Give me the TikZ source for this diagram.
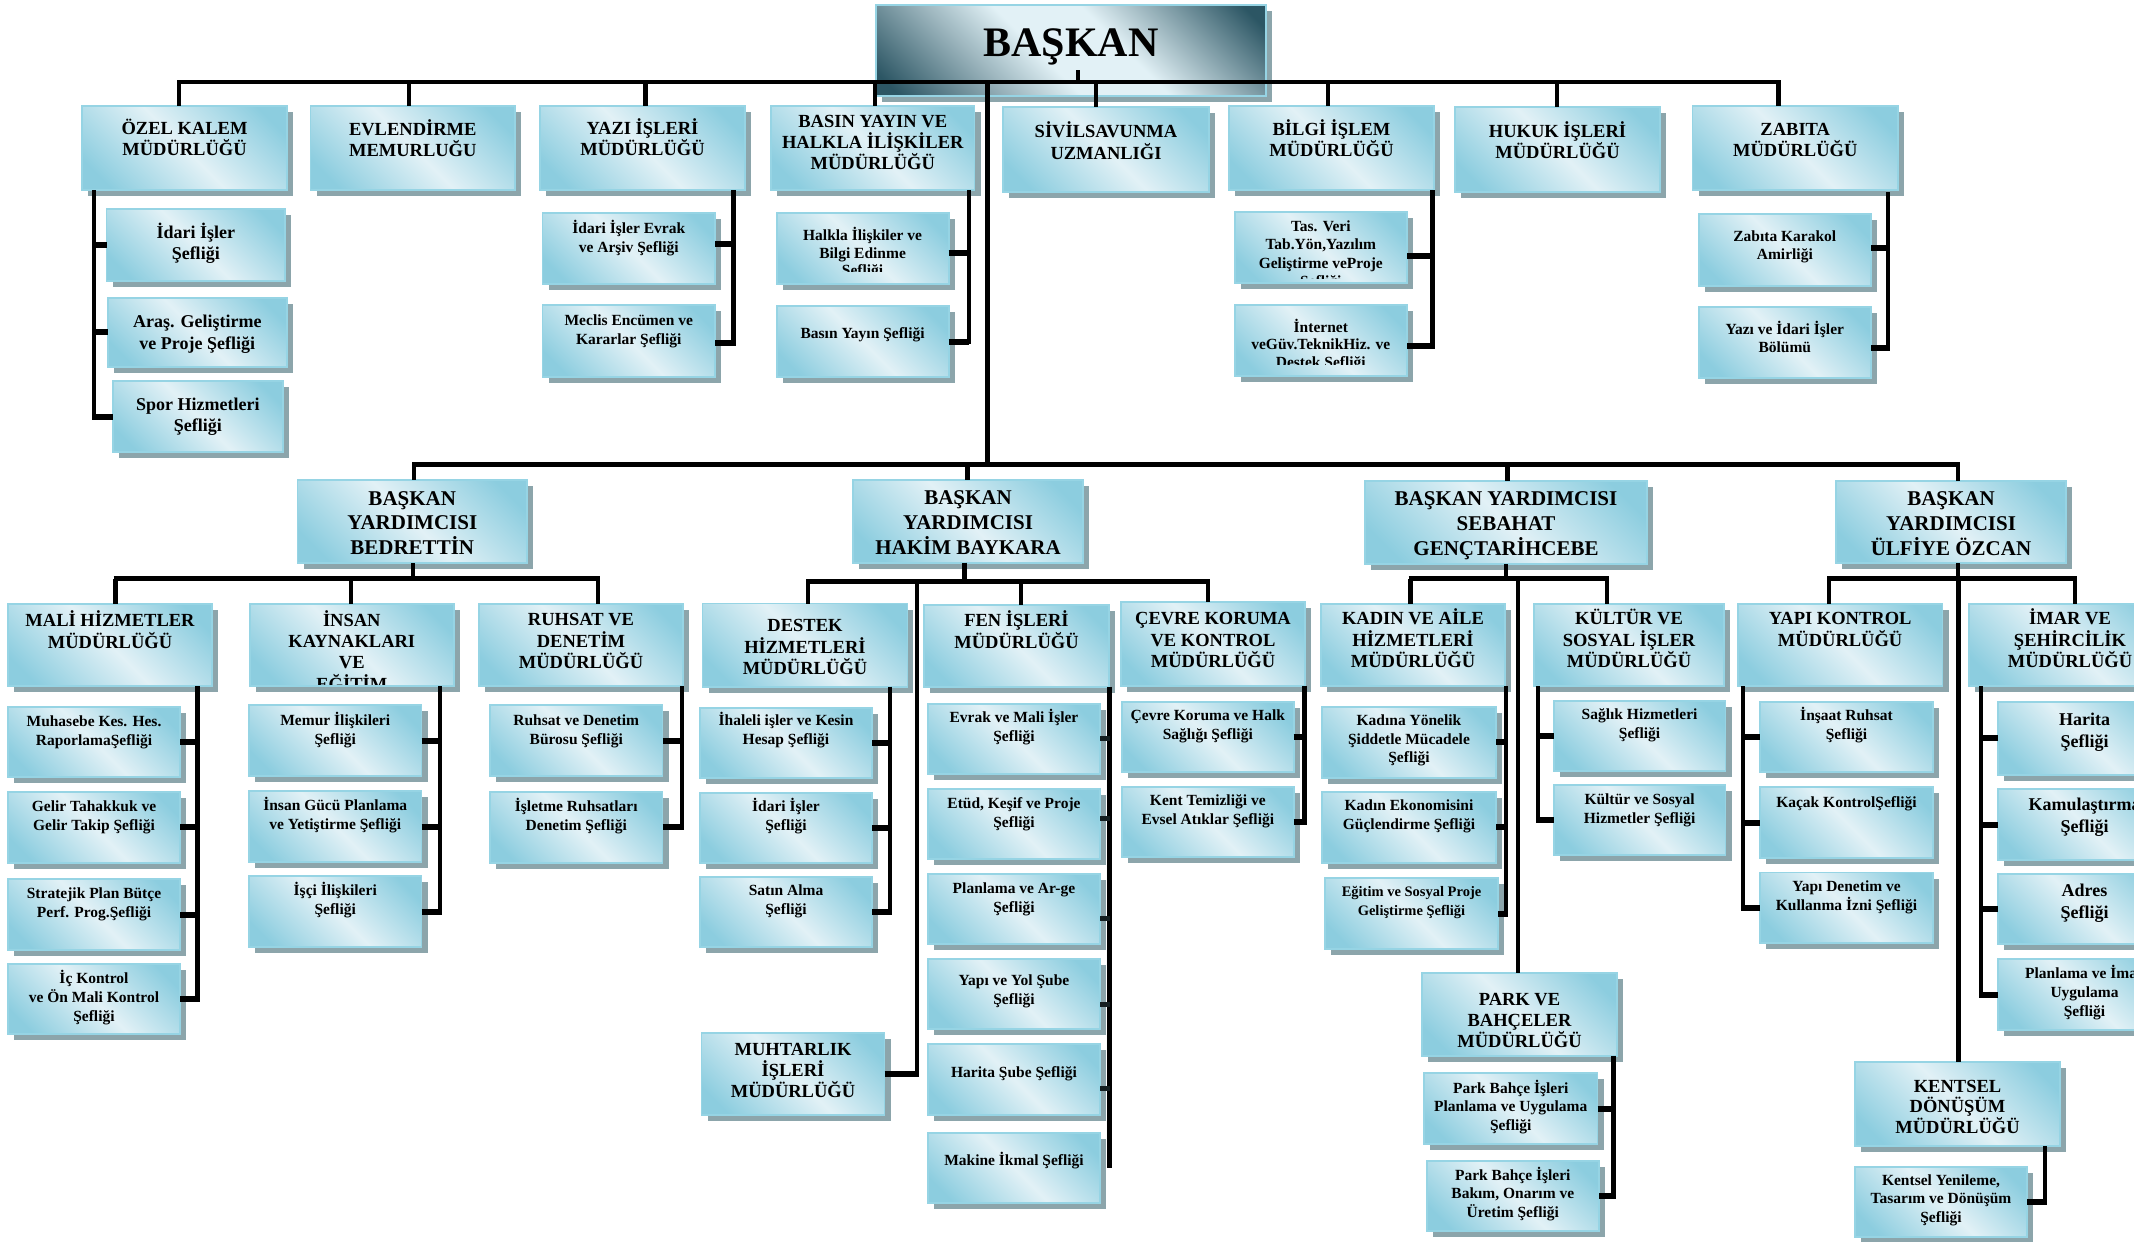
\documentclass[tikz,border=0pt]{standalone}
\usepackage{fontspec}
\setmainfont{Liberation Serif}
\definecolor{bc}{RGB}{140,205,223}
\definecolor{bl}{RGB}{226,241,246}
\definecolor{bordc}{RGB}{150,212,228}
\definecolor{shadc}{RGB}{140,165,171}
\definecolor{bdark}{RGB}{44,86,100}
\pgfdeclarehorizontalshading{boxsh}{100bp}{color(0bp)=(bc); color(22bp)=(bc); color(50bp)=(bl); color(78bp)=(bc); color(100bp)=(bc)}
\pgfdeclarehorizontalshading{bossh}{100bp}{color(0bp)=(bdark); color(18bp)=(bdark); color(45bp)=(bl); color(58bp)=(bl); color(82bp)=(bdark); color(100bp)=(bdark)}
\tikzset{
  bx/.style={rectangle, inner sep=0pt, outer sep=0pt, draw=bordc, line width=1.8pt, shading=boxsh, shading angle=45,
    preaction={fill=shadc, transform canvas={xshift=6pt,yshift=-6pt}}},
  bxb/.style={bx, shading=bossh},
  txt/.style={anchor=north, inner sep=0pt, align=center},
  conn/.style={line width=4.5pt, draw=black},
  stub/.style={line width=6pt, draw=black},
  fstub/.style={line width=5pt, draw=black!85!bc}
}
\def\clipy{5000}
\newcommand\obox[9]{%
  \node[bx, minimum width={(#4-#2)*1pt}, minimum height={(#5-#3)*1pt}] (#1) at ({(#2+#4)/2},{(#3+#5)/2}) {};
  \begin{scope}
    \clip (#2,#3) rectangle (#4,\clipy);
    \node[txt, font=\fontsize{#6}{#7}\selectfont\bfseries] (#1t) at ({(#2+#4)/2},{#3+#8-0.67*#6}) {\rule{0pt}{1em}#9};
  \end{scope}}
\begin{document}
\begin{tikzpicture}[x=1pt,y=-1pt]
\useasboundingbox (0,0) rectangle (2134,1242);
\clip (0,0) rectangle (2134,1242);
\fill[white] (0,0) rectangle (2134,1242);

% ---------- BASKAN
\node[bxb, minimum width=390pt, minimum height=91pt] (baskan) at (1071,50.5) {};
\node[txt, font=\fontsize{42}{48}\selectfont\bfseries] (baskant) at (1071,14.7) {\rule{0pt}{1em}BAŞKAN};

% ---------- top row
\obox{ozel}{82}{106}{287}{190}{18.5}{21.3}{22.3}{ÖZEL KALEM\\MÜDÜRLÜĞÜ}
\obox{evlen}{310.5}{106}{515}{190}{18.5}{21.3}{23}{EVLENDİRME\\MEMURLUĞU}
\obox{yazi}{540}{106}{745}{190}{18.5}{21.3}{22.3}{YAZI İŞLERİ\\MÜDÜRLÜĞÜ}
\obox{basin}{771}{106}{974.5}{190}{18.5}{21.3}{14.7}{BASIN YAYIN VE\\HALKLA İLİŞKİLER\\MÜDÜRLÜĞÜ}
\obox{sivil}{1003}{107}{1209}{192}{18.5}{21.3}{24.5}{SİVİLSAVUNMA\\UZMANLIĞI}
\obox{bilgi}{1229}{106}{1434}{190}{18.5}{21.3}{23.3}{BİLGİ İŞLEM\\MÜDÜRLÜĞÜ}
\obox{hukuk}{1455}{107}{1660}{192}{18.5}{21.3}{23.7}{HUKUK İŞLERİ\\MÜDÜRLÜĞÜ}
\obox{zabita}{1692.5}{106}{1898}{190}{18.5}{21.3}{23.3}{ZABITA\\MÜDÜRLÜĞÜ}

% ---------- top row children
\obox{idari1}{106.5}{209}{285}{280.7}{18}{20.5}{23.7}{İdari İşler\\Şefliği}
\obox{aras}{108}{297.7}{286.6}{366.7}{18}{21.5}{24}{Araş. Geliştirme\\ve Proje Şefliği}
\obox{spor}{112.6}{380.7}{283}{452.3}{18}{21}{23.3}{Spor Hizmetleri\\Şefliği}
\obox{evrak1}{542.5}{212.7}{715}{284}{15.5}{19}{15}{İdari İşler Evrak\\ve Arşiv Şefliği}
\obox{meclis}{542.5}{305}{715}{376.7}{15.5}{19}{15}{Meclis Encümen ve\\Kararlar Şefliği}
\def\clipy{271.7}
\obox{halkla}{776.6}{213}{948.6}{284}{15.5}{17.7}{22}{Halkla İlişkiler ve\\Bilgi Edinme\\Şefliği}
\def\clipy{5000}
\obox{basinsef}{776.6}{306}{948.6}{377.3}{15.5}{18.5}{26.7}{Basın Yayın Şefliği}
\def\clipy{278.3}
\obox{tasveri}{1234.6}{211.7}{1407}{282.7}{15.5}{18.4}{14.3}{Tas. Veri\\Tab.Yön,Yazılım\\Geliştirme veProje\\Şefliği}
\def\clipy{364}
\obox{internet}{1234.6}{305}{1407}{376}{15.5}{17.6}{21.7}{İnternet\\veGüv.TeknikHiz. ve\\Destek Şefliği}
\def\clipy{5000}
\obox{karakol}{1698.6}{214}{1871}{285.7}{15.5}{18}{22}{Zabıta Karakol\\Amirliği}
\obox{yaziidari}{1698.6}{306.7}{1871}{378.3}{15.5}{17.5}{22.6}{Yazı ve İdari İşler\\Bölümü}

% ---------- vice mayors
\obox{bedrettin}{297.5}{480}{527}{563}{21}{24.5}{18}{BAŞKAN\\YARDIMCISI\\BEDRETTİN}
\obox{hakim}{853}{480}{1083}{562.6}{21}{25}{17}{BAŞKAN\\YARDIMCISI\\HAKİM BAYKARA}
\obox{sebahat}{1365}{481}{1647}{564}{21}{25}{17}{BAŞKAN YARDIMCISI\\SEBAHAT\\GENÇTARİHCEBE}
\obox{ulfiye}{1836}{481}{2066}{563}{21}{25}{17}{BAŞKAN\\YARDIMCISI\\ÜLFİYE ÖZCAN}

% ---------- directorates
\obox{mali}{8}{604}{212}{686}{18.5}{21.8}{16}{MALİ HİZMETLER\\MÜDÜRLÜĞÜ}
\def\clipy{684}
\obox{insan}{250}{604}{453.6}{686}{18.5}{21.3}{16}{İNSAN\\KAYNAKLARI\\VE\\EĞİTİM}
\def\clipy{5000}
\obox{ruhsat}{479}{604}{683}{686}{18.5}{21.8}{15}{RUHSAT VE\\DENETİM\\MÜDÜRLÜĞÜ}
\obox{destek}{702.5}{603.5}{907.4}{686.6}{18.5}{21.5}{22}{DESTEK\\HİZMETLERİ\\MÜDÜRLÜĞÜ}
\obox{fen}{924}{604.7}{1109}{686.6}{18.5}{21.8}{15.5}{FEN İŞLERİ\\MÜDÜRLÜĞÜ}
\obox{cevre}{1121}{602}{1305}{686}{18.5}{21.8}{16}{ÇEVRE KORUMA\\VE KONTROL\\MÜDÜRLÜĞÜ}
\obox{kadin}{1321}{604}{1505}{686}{18.5}{21.8}{14}{KADIN VE AİLE\\HİZMETLERİ\\MÜDÜRLÜĞÜ}
\obox{kultur}{1534}{604}{1724}{686}{18.5}{21.8}{14}{KÜLTÜR VE\\SOSYAL İŞLER\\MÜDÜRLÜĞÜ}
\obox{yapik}{1737.8}{604}{1942.5}{686}{18.5}{21.8}{14}{YAPI KONTROL\\MÜDÜRLÜĞÜ}
\obox{imar}{1969}{604}{2171}{686}{18.5}{21.8}{14}{İMAR VE\\ŞEHİRCİLİK\\MÜDÜRLÜĞÜ}
\obox{muhtarlik}{701.5}{1032.7}{884.5}{1115}{18.5}{21}{16}{MUHTARLIK\\İŞLERİ\\MÜDÜRLÜĞÜ}
\obox{park}{1422}{973}{1617}{1056}{18.5}{21}{26}{PARK VE\\BAHÇELER\\MÜDÜRLÜĞÜ}
\obox{kentsel}{1855}{1061.7}{2060}{1146}{18.5}{20.5}{24.3}{KENTSEL\\DÖNÜŞÜM\\MÜDÜRLÜĞÜ}

% ---------- children
\obox{muh}{8}{707}{180}{777}{15.5}{19}{14}{Muhasebe Kes. Hes.\\RaporlamaŞefliği}
\obox{gelir}{8}{792}{180}{862.6}{15.5}{19}{14}{Gelir Tahakkuk ve\\Gelir Takip Şefliği}
\obox{strat}{8}{879}{180}{950}{15.5}{19}{14}{Stratejik Plan Bütçe\\Perf. Prog.Şefliği}
\obox{ick}{8}{964}{180}{1034}{15.5}{19}{14}{İç Kontrol\\ve Ön Mali Kontrol\\Şefliği}

\obox{memur}{249}{705}{421.5}{776}{15.5}{19}{15}{Memur İlişkileri\\Şefliği}
\obox{gucu}{249}{791}{421.5}{862}{15.5}{19}{14.6}{İnsan Gücü Planlama\\ve Yetiştirme Şefliği}
\obox{isci}{249}{876}{421.5}{947}{15.5}{19}{14.5}{İşçi İlişkileri\\Şefliği}

\obox{rburo}{490}{705}{662.5}{776}{15.5}{19}{15.2}{Ruhsat ve Denetim\\Bürosu Şefliği}
\obox{isletme}{490}{792}{662.5}{862.6}{15.5}{19}{14.3}{İşletme Ruhsatları\\Denetim Şefliği}

\obox{ihale}{700}{707.6}{872}{777.6}{15.5}{19}{13}{İhaleli işler ve Kesin\\Hesap Şefliği}
\obox{idari2}{700}{793}{872}{862.6}{15.5}{19}{13}{İdari İşler\\Şefliği}
\obox{satin}{700}{877}{872}{946.8}{15.5}{19}{13.5}{Satın Alma\\Şefliği}

\obox{evrak2}{928}{703.8}{1100}{773.8}{15.5}{19}{13}{Evrak ve Mali İşler\\Şefliği}
\obox{etud}{928}{789}{1100}{858.8}{15.5}{19}{14}{Etüd, Keşif ve Proje\\Şefliği}
\obox{planarge}{928}{874}{1100}{944}{15.5}{19}{14}{Planlama ve Ar-ge\\Şefliği}
\obox{yapiyol}{928}{959}{1100}{1029}{15.5}{19}{21.5}{Yapı ve Yol Şube\\Şefliği}
\obox{haritasube}{928}{1044}{1100}{1115}{15.5}{19}{28}{Harita Şube Şefliği}
\obox{makine}{928}{1132.7}{1100}{1202.7}{15.5}{19}{27}{Makine İkmal Şefliği}

\obox{cevrehalk}{1122}{702}{1293.6}{772}{15.5}{19}{13}{Çevre Koruma ve Halk\\Sağlığı Şefliği}
\obox{kent}{1122}{787}{1293.6}{857}{15.5}{19}{13}{Kent Temizliği ve\\Evsel Atıklar Şefliği}

\obox{kadsid}{1322}{707}{1496}{777.6}{15.5}{18.8}{13}{Kadına Yönelik\\Şiddetle Mücadele\\Şefliği}
\obox{kadeko}{1322}{792}{1496}{862.6}{15.5}{19}{13.6}{Kadın Ekonomisini\\Güçlendirme Şefliği}
\obox{egitim}{1325}{878}{1498}{949}{14.5}{19}{13.7}{Eğitim ve Sosyal Proje\\Geliştirme Şefliği}

\obox{saglik}{1553.7}{701}{1725.5}{770.8}{15.5}{19}{13.5}{Sağlık Hizmetleri\\Şefliği}
\obox{kultursos}{1553.7}{785}{1725.5}{855}{15.5}{19}{13.7}{Kültür ve Sosyal\\Hizmetler Şefliği}

\obox{insaat}{1760}{702}{1933}{772}{15.5}{19}{13.6}{İnşaat Ruhsat\\Şefliği}
\obox{kacak}{1760}{787}{1933}{858}{15.5}{19}{15.5}{Kaçak KontrolŞefliği}
\obox{yapiden}{1760}{872.5}{1933}{943}{15.5}{19}{14}{Yapı Denetim ve\\Kullanma İzni Şefliği}

\obox{harita}{1998}{702}{2171}{774.6}{18}{21.8}{17.5}{Harita\\Şefliği}
\obox{kamu}{1998}{789}{2171}{860}{18}{22}{15.4}{Kamulaştırma\\Şefliği}
\obox{adres}{1998}{874}{2171}{944}{18}{21.8}{16.5}{Adres\\Şefliği}
\obox{planimar}{1998}{959}{2171}{1030}{15.5}{18.7}{14.6}{Planlama ve İmar\\Uygulama\\Şefliği}

\obox{pbplan}{1424}{1073}{1597.5}{1144}{15.5}{18.5}{15}{Park Bahçe İşleri\\Planlama ve Uygulama\\Şefliği}
\obox{pbbakim}{1426.6}{1160.7}{1599}{1230.7}{15.5}{18.5}{14.3}{Park Bahçe İşleri\\Bakım, Onarım ve\\Üretim Şefliği}

\obox{kyen}{1855}{1166.7}{2027}{1236.7}{15.5}{18.6}{13.3}{Kentsel Yenileme,\\Tasarım ve Dönüşüm\\Şefliği}

% ================= connectors
% bus A
\coordinate (dA1) at (179,82);
\coordinate (dA2) at (409,82);
\coordinate (dA3) at (645.6,82);
\coordinate (dA4) at (875,82);
\coordinate (dA5) at (1096,82);
\coordinate (dA6) at (1328,82);
\coordinate (dA7) at (1557,82);
\coordinate (dA8) at (1778.5,82);
\draw[conn, shorten <=-2pt, shorten >=-2pt] (dA1) -- (dA8);
\foreach \c/\n in {dA1/ozel,dA2/evlen,dA3/yazi,dA4/basin,dA5/sivil,dA6/bilgi,dA7/hukuk,dA8/zabita}
  \draw[conn] (\c) -- (\c |- \n.north);
\draw[conn] ([xshift=7pt,yshift=26pt]baskan.south) -- ([xshift=7pt,yshift=14pt]baskan.south);

% trunk and bus B
\coordinate (trk) at (987.5,82);
\coordinate (dB1) at (414,464.6);
\coordinate (dB2) at (967.7,464.6);
\coordinate (dB3) at (1507.4,464.6);
\coordinate (dB4) at (1958,464.6);
\draw[conn] (trk) -- (trk |- dB1);
\draw[conn, shorten <=-2pt, shorten >=-2pt] (dB1) -- (dB4);
\foreach \c/\n in {dB1/bedrettin,dB2/hakim,dB3/sebahat,dB4/ulfiye}
  \draw[conn] (\c) -- (\c |- \n.north);

% Bedrettin
\coordinate (cC0) at (413,578.6);
\coordinate (dC1) at (115.7,578.6);
\coordinate (dC2) at (351,578.6);
\coordinate (dC3) at (598,578.6);
\draw[conn] (cC0 |- bedrettin.south) -- (cC0);
\draw[conn, shorten <=-2pt, shorten >=-2pt] (dC1) -- (dC3);
\foreach \c/\n in {dC1/mali,dC2/insan,dC3/ruhsat}
  \draw[conn] (\c) -- (\c |- \n.north);

% Hakim
\coordinate (cD0) at (964.6,581.7);
\coordinate (dD1) at (808,581.7);
\coordinate (dD2) at (1021,581.7);
\coordinate (dD3) at (1208,581.7);
\coordinate (dMu) at (916.8,581.7);
\draw[conn] (cD0 |- hakim.south) -- (cD0);
\draw[conn, shorten <=-2pt, shorten >=-2pt] (dD1) -- (dD3);
\foreach \c/\n in {dD1/destek,dD2/fen,dD3/cevre}
  \draw[conn] (\c) -- (\c |- \n.north);
\draw[conn, shorten >=-3pt] (dMu) -- (dMu |- muhtarlik.east);
\draw[stub] (muhtarlik.east) -- (muhtarlik.east -| dMu);

% Sebahat
\coordinate (cE0) at (1506,578.6);
\coordinate (dE1) at (1410.6,578.6);
\coordinate (dE2) at (1607,578.6);
\coordinate (dPk) at (1518,578.6);
\draw[conn] (cE0 |- sebahat.south) -- (cE0);
\draw[conn, shorten <=-2pt, shorten >=-2pt] (dE1) -- (dE2);
\foreach \c/\n in {dE1/kadin,dE2/kultur,dPk/park}
  \draw[conn] (\c) -- (\c |- \n.north);

% Ulfiye
\coordinate (cF0) at (1958,578.6);
\coordinate (dF1) at (1829,578.6);
\coordinate (dF2) at (2075,578.6);
\coordinate (dKs) at (1958.5,578.6);
\draw[conn] (cF0 |- ulfiye.south) -- (cF0);
\draw[conn, shorten <=-2pt, shorten >=-2pt] (dF1) -- (dF2);
\foreach \c/\n in {dF1/yapik,dF2/imar,dKs/kentsel}
  \draw[conn] (\c) -- (\c |- \n.north);

% top-row branches
\coordinate (tOzel) at (94,190);
\draw[conn, shorten >=-3pt] (tOzel) -- (tOzel |- spor.west);
\foreach \n in {idari1,aras,spor} \draw[stub] (\n.west) -- (\n.west -| tOzel);
\coordinate (tYazi) at (733.6,190);
\draw[conn] (tYazi) -- +(0,156);
\draw[stub] ([yshift=4pt]evrak1.east) -- +(18.6,0);
\draw[stub] ([yshift=-2.5pt]meclis.east) -- +(18.6,0);
\coordinate (tBasin) at (969,190);
\draw[conn] (tBasin) -- +(0,153.5);
\draw[stub] ([yshift=-4.8pt]halkla.east) -- +(20.4,0);
\draw[stub] (basinsef.east) -- (basinsef.east -| tBasin);
\coordinate (tBilgi) at (1432.5,190);
\draw[conn] (tBilgi) -- +(0,159);
\draw[stub] ([yshift=-8.8pt]tasveri.east) -- +(25.5,0);
\draw[stub] ([yshift=-5.5pt]internet.east) -- +(25.5,0);
\coordinate (tZab) at (1888,192);
\draw[conn] (tZab) -- +(0,158.5);
\draw[stub] ([yshift=1.5pt]karakol.east) -- +(17,0);
\draw[stub] ([yshift=-5.2pt]yaziidari.east) -- +(17,0);

% directorate branches
\coordinate (tMali) at (197.4,686);
\draw[conn, shorten >=-3pt] (tMali) -- (tMali |- ick.east);
\foreach \n in {muh,gelir,strat,ick} \draw[stub] (\n.east) -- (\n.east -| tMali);
\coordinate (tInsan) at (440,686);
\draw[conn, shorten >=-3pt] (tInsan) -- (tInsan |- isci.east);
\foreach \n in {memur,gucu,isci} \draw[stub] (\n.east) -- (\n.east -| tInsan);
\coordinate (tRuhsat) at (682,686);
\draw[conn, shorten >=-3pt] (tRuhsat) -- (tRuhsat |- isletme.east);
\foreach \n in {rburo,isletme} \draw[stub] (\n.east) -- (\n.east -| tRuhsat);
\coordinate (tDestek) at (890,686.6);
\draw[conn, shorten >=-3pt] (tDestek) -- (tDestek |- satin.east);
\foreach \n in {ihale,idari2,satin} \draw[stub] (\n.east) -- (\n.east -| tDestek);
\coordinate (tFen) at (1109.6,686.6);
\draw[conn] (tFen) -- (tFen |- makine.east);
\draw[fstub] (evrak2.east) -- +(9.6,0);
\draw[fstub] ([yshift=5pt]etud.east) -- +(9.6,0);
\draw[fstub] ([yshift=-9.5pt]planarge.east) -- +(9.6,0);
\draw[fstub] ([yshift=-10.6pt]yapiyol.east) -- +(9.6,0);
\draw[fstub] ([yshift=-8.5pt]haritasube.east) -- +(9.6,0);
\coordinate (tCevre) at (1304.7,686);
\draw[conn, shorten >=-3pt] (tCevre) -- (tCevre |- kent.east);
\foreach \n in {cevrehalk,kent} \draw[stub] (\n.east) -- (\n.east -| tCevre);
\coordinate (tKadin) at (1506,686);
\draw[conn, shorten >=-3pt] (tKadin) -- (tKadin |- egitim.east);
\foreach \n in {kadsid,kadeko,egitim} \draw[stub] (\n.east) -- (\n.east -| tKadin);
\coordinate (tKultur) at (1537.8,686);
\draw[conn, shorten >=-3pt] (tKultur) -- (tKultur |- kultursos.west);
\foreach \n in {saglik,kultursos} \draw[stub] (\n.west) -- (\n.west -| tKultur);
\coordinate (tYapi) at (1743,686);
\draw[conn, shorten >=-3pt] (tYapi) -- (tYapi |- yapiden.west);
\foreach \n in {insaat,kacak,yapiden} \draw[stub] (\n.west) -- (\n.west -| tYapi);
\coordinate (tImar) at (1981,686);
\draw[conn, shorten >=-3pt] (tImar) -- (tImar |- planimar.west);
\foreach \n in {harita,kamu,adres,planimar} \draw[stub] (\n.west) -- (\n.west -| tImar);
\coordinate (tPark) at (1613.5,1056);
\draw[conn, shorten >=-3pt] (tPark) -- (tPark |- pbbakim.east);
\foreach \n in {pbplan,pbbakim} \draw[stub] (\n.east) -- (\n.east -| tPark);
\coordinate (tKent) at (2045,1146);
\draw[conn, shorten >=-3pt] (tKent) -- (tKent |- kyen.east);
\draw[stub] (kyen.east) -- (kyen.east -| tKent);
\end{tikzpicture}
\end{document}
